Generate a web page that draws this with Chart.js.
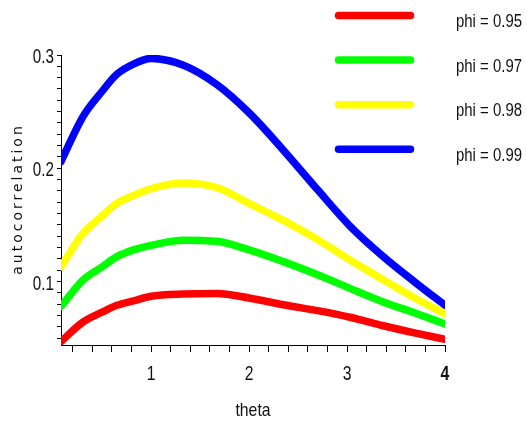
<!DOCTYPE html>
<html>
<head>
<meta charset="utf-8">
<script src="https://cdn.jsdelivr.net/npm/chart.js@4"></script>
<style>
  html, body { margin: 0; padding: 0; background: #fff; }
  #wrap { width: 527px; height: 425px; }
</style>
</head>
<body>
<div id="wrap"><canvas id="acfChart" width="527" height="425"></canvas></div>
<script>
// theta values (shared x for all curves)
const theta = [0.08, 0.3, 0.5, 0.65, 0.82, 1.0, 1.33, 1.67, 2.0, 2.35, 2.7, 3.03, 3.37, 3.7, 4.0];

// autocorrelation per phi
const phi95 = [0.047, 0.064, 0.073, 0.079, 0.083, 0.087, 0.089, 0.0895, 0.0855, 0.0795, 0.0743, 0.0685, 0.061, 0.0545, 0.049];
const phi97 = [0.078, 0.101, 0.113, 0.122, 0.128, 0.132, 0.1365, 0.1355, 0.128, 0.1176, 0.106, 0.094, 0.082, 0.072, 0.0626];
const phi98 = [0.113, 0.142, 0.158, 0.169, 0.176, 0.182, 0.187, 0.183, 0.169, 0.154, 0.137, 0.119, 0.1015, 0.085, 0.0715];
const phi99 = [0.206, 0.245, 0.268, 0.283, 0.292, 0.297, 0.291, 0.274, 0.249, 0.216, 0.181, 0.149, 0.122, 0.099, 0.079];

const seriesLabels = ['phi = 0.95', 'phi = 0.97', 'phi = 0.98', 'phi = 0.99'];
const seriesColors = ['#ff0000', '#00ff00', '#ffff00', '#0000ff'];

// tick positions and labels
const xTicks = [0.2, 0.4, 0.6, 0.8, 1, 1.2, 1.4, 1.6, 1.8, 2, 2.2, 2.4, 2.6, 2.8, 3, 3.2, 3.4, 3.6, 3.8, 4];
const xLabelValues = [1, 2, 3, 4];
const yTicks = [0.05, 0.06, 0.07, 0.08, 0.09, 0.1, 0.11, 0.12, 0.13, 0.14, 0.15, 0.16, 0.17, 0.18, 0.19,
                0.2, 0.21, 0.22, 0.23, 0.24, 0.25, 0.26, 0.27, 0.28, 0.29, 0.3];
const yLabelValues = [0.1, 0.2, 0.3];

const FONT = '"Liberation Sans", Arial, sans-serif';
const TEXT = '#111';

const toPoints = (ys) => theta.map((t, i) => ({ x: t, y: ys[i] }));

// narrow text: regular face squeezed horizontally
function narrowText(ctx, text, x, y, size, sx, align, bold) {
    ctx.save();
    ctx.translate(x, y);
    ctx.scale(sx, 1);
    ctx.font = (bold ? 'bold ' : '') + size + 'px ' + FONT;
    ctx.fillStyle = TEXT;
    ctx.textAlign = align;
    ctx.textBaseline = 'alphabetic';
    ctx.fillText(text, 0, 0);
    ctx.restore();
}

// tick labels + axis titles, placed with the chart's own scales
const axisText = {
    id: 'axisText',
    afterDraw(chart) {
        const ctx = chart.ctx;
        const xs = chart.scales.x, ys = chart.scales.y;
        xLabelValues.forEach((v) => {
            narrowText(ctx, String(v), xs.getPixelForValue(v), 380, 21, 0.75, 'center', v === 4);
        });
        yLabelValues.forEach((v) => {
            narrowText(ctx, v.toFixed(1), 54, ys.getPixelForValue(v) + 8, 20, 0.76, 'right', false);
        });
        narrowText(ctx, 'theta', (xs.left + xs.right) / 2, 416, 19, 0.83, 'center', false);

        // rotated y title with wide letter spacing
        ctx.save();
        ctx.translate(18, 199);
        ctx.rotate(-Math.PI / 2);
        ctx.font = '14px "DejaVu Sans", sans-serif';
        ctx.letterSpacing = '3px';
        ctx.fillStyle = TEXT;
        ctx.textAlign = 'center';
        ctx.textBaseline = 'middle';
        ctx.fillText('autocorrelation', 0, 0);
        ctx.restore();
    }
};

// legend drawn over the plot area, top right
const overlayLegend = {
    id: 'overlayLegend',
    afterDraw(chart) {
        const ctx = chart.ctx;
        chart.data.datasets.forEach((ds, i) => {
            const y = 15.5 + i * 44.6;
            ctx.save();
            ctx.strokeStyle = ds.borderColor;
            ctx.lineWidth = 7.5;
            ctx.lineCap = 'round';
            ctx.beginPath();
            ctx.moveTo(338.5, y);
            ctx.lineTo(410.5, y);
            ctx.stroke();
            ctx.restore();
            narrowText(ctx, ds.label, 456, y + 11.5, 18, 0.83, 'left', false);
        });
    }
};

new Chart(document.getElementById('acfChart').getContext('2d'), {
    type: 'scatter',
    data: {
        datasets: [phi95, phi97, phi98, phi99].map((ys, i) => ({
            label: seriesLabels[i],
            data: toPoints(ys),
            showLine: true,
            borderColor: seriesColors[i],
            backgroundColor: seriesColors[i],
            borderWidth: 7.5,
            borderCapStyle: 'round',
            borderJoinStyle: 'round',
            pointRadius: 0,
            cubicInterpolationMode: 'monotone',
        })),
    },
    options: {
        responsive: false,
        animation: false,
        layout: { padding: { top: 55, right: 82, left: 0, bottom: 0 } },
        plugins: {
            legend: { display: false },
            tooltip: { enabled: false },
        },
        scales: {
            x: {
                type: 'linear',
                min: 0.08,
                max: 4,
                afterBuildTicks: (scale) => { scale.ticks = xTicks.map((v) => ({ value: v })); },
                afterFit: (scale) => { scale.height = 80; },
                ticks: { display: false, autoSkip: false },
                grid: { drawOnChartArea: false, drawTicks: true, tickLength: 7, color: '#000' },
                border: { display: true, color: '#000', width: 1 },
            },
            y: {
                type: 'linear',
                min: 0.044,
                max: 0.3,
                afterBuildTicks: (scale) => { scale.ticks = yTicks.map((v) => ({ value: v })); },
                afterFit: (scale) => { scale.width = 61; },
                ticks: { display: false, autoSkip: false },
                grid: { drawOnChartArea: false, drawTicks: true, tickLength: 4, color: '#000' },
                border: { display: true, color: '#000', width: 1 },
            },
        },
    },
    plugins: [overlayLegend, axisText],
});
</script>
</body>
</html>
